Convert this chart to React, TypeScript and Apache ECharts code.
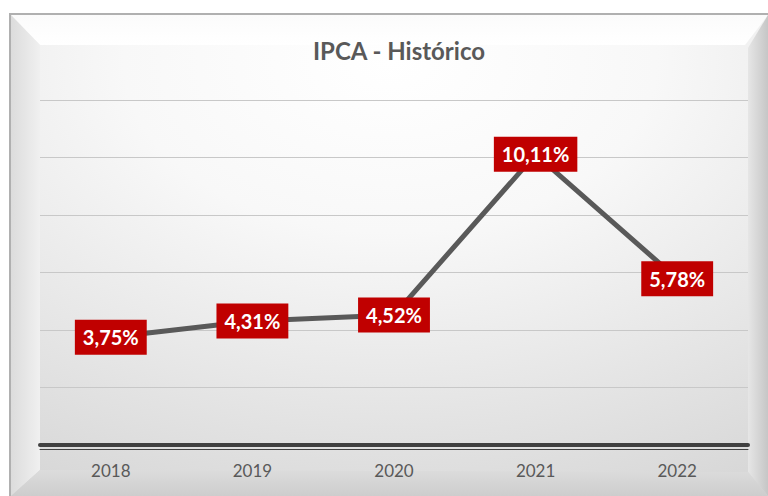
import React, { useEffect, useRef } from "react";
import * as echarts from "echarts";

const categories = ["2018", "2019", "2020", "2021", "2022"];
const ipcaValues = [3.75, 4.31, 4.52, 10.11, 5.78];
const yTicks = [0, 2, 4, 6, 8, 10, 12];
const titleText = "IPCA - Histórico";

export default function App() {
  const ref = useRef<HTMLDivElement>(null);
  useEffect(() => {
    if (!ref.current) return;
    const chart = echarts.init(ref.current, null, { renderer: "svg" });
    const font = "Lato, 'Open Sans', sans-serif";
    const option: any = {
      animation: false,
      backgroundColor: "#ffffff",
      title: {
        text: titleText,
        left: 394,
        top: 33,
        textAlign: "center",
        textStyle: { fontFamily: font, fontSize: 24, fontWeight: "bold", color: "#595959" },
      },
      graphic: [
        {
          type: "rect",
          z: -100,
          silent: true,
          shape: { x: 10, y: 14, width: 760, height: 484 },
          style: {
            fill: new echarts.graphic.RadialGradient(0.5, 0.1, 1.0, [
              { offset: 0, color: "#ffffff" },
              { offset: 0.35, color: "#f8f8f8" },
              { offset: 1, color: "#d6d6d6" },
            ]),
            stroke: "#b0b0b0",
            lineWidth: 2,
          },
        },
        {
          type: "polygon",
          z: -99,
          silent: true,
          shape: { points: [[11, 15], [768, 15], [745, 45], [40, 45]] },
          style: {
            fill: new echarts.graphic.LinearGradient(0, 0, 0, 1, [
              { offset: 0, color: "#fbfbfb" },
              { offset: 1, color: "#ffffff" },
            ]),
          },
        },
        {
          type: "polygon",
          z: -99,
          silent: true,
          shape: { points: [[11, 15], [40, 45], [40, 470], [11, 496]] },
          style: {
            fill: new echarts.graphic.LinearGradient(0, 0, 1, 0, [
              { offset: 0, color: "#dcdcdc" },
              { offset: 1, color: "#f0f0f0" },
            ]),
          },
        },
        {
          type: "polygon",
          z: -99,
          silent: true,
          shape: { points: [[768, 15], [768, 496], [748, 472], [748, 48]] },
          style: {
            fill: new echarts.graphic.LinearGradient(0, 0, 1, 0, [
              { offset: 0, color: "#e6e6e6" },
              { offset: 1, color: "#c6c6c6" },
            ]),
          },
        },
        {
          type: "polygon",
          z: -99,
          silent: true,
          shape: { points: [[11, 496], [40, 470], [748, 472], [768, 496]] },
          style: {
            fill: new echarts.graphic.LinearGradient(0, 0, 0, 1, [
              { offset: 0, color: "#dcdcdc" },
              { offset: 1, color: "#cdcdcd" },
            ]),
          },
        },
      ],
      grid: { left: 40, right: 20, top: 100, bottom: 51, containLabel: false },
      xAxis: [
        {
          type: "category",
          data: categories,
          boundaryGap: true,
          axisLine: { show: true, lineStyle: { color: "#404040", width: 4 } },
          axisTick: { show: false },
          axisLabel: { color: "#595959", fontSize: 17, fontFamily: font, margin: 17 },
          z: 5,
        },
        {
          type: "category",
          data: categories,
          position: "bottom",
          offset: 4,
          axisLine: { show: true, lineStyle: { color: "#404040", width: 1 } },
          axisTick: { show: false },
          axisLabel: { show: false },
        },
      ],
      yAxis: {
        type: "value",
        min: yTicks[0],
        max: yTicks[yTicks.length - 1],
        interval: 2,
        axisLine: { show: false },
        axisTick: { show: false },
        axisLabel: { show: false },
        splitLine: { show: true, lineStyle: { color: "#c8c8c8", width: 1 } },
      },
      series: [
        {
          type: "line",
          data: ipcaValues,
          xAxisIndex: 0,
          symbol: "circle",
          symbolSize: 1,
          itemStyle: { color: "#595959" },
          lineStyle: { color: "#595959", width: 5 },
          z: 3,
          label: {
            show: true,
            position: "inside",
            formatter: (p: any) => p.value.toFixed(2).replace(".", ",") + "%",
            color: "#ffffff",
            fontFamily: font,
            fontSize: 20,
            fontWeight: "bold",
            lineHeight: 24,
            backgroundColor: "#c00000",
            padding: [6, 8, 5, 8],
          },
        },
      ],
    };
    chart.setOption(option);
    return () => chart.dispose();
  }, []);
  return <div ref={ref} style={{ width: 768, height: 496, position: "absolute", left: 0, top: 0 }} />;
}
